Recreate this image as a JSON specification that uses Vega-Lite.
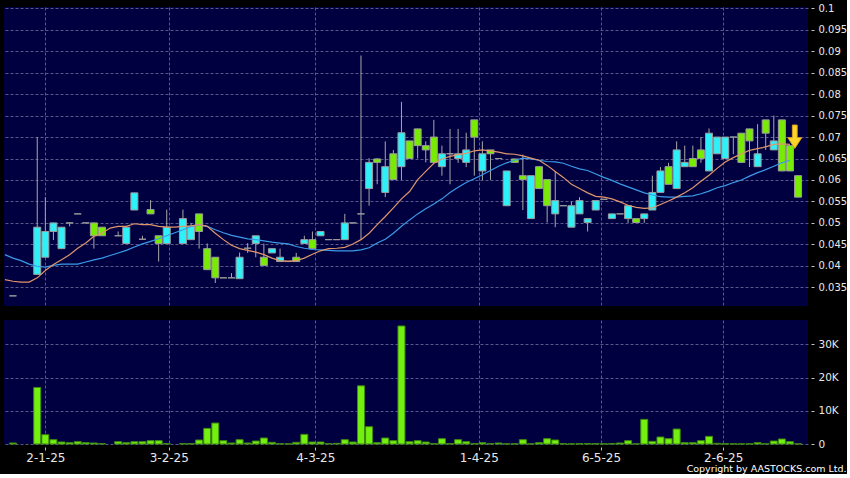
{
  "$schema": "https://vega.github.io/schema/vega-lite/v6.json",
  "background": "black",
  "padding": {"left": 4, "top": 3, "right": 0, "bottom": 0},
  "spacing": 14,
  "config": {
    "font": "DejaVu Sans",
    "view": {"fill": "#000040", "stroke": null},
    "axis": {"labelColor": "#e8e8e8", "tickColor": "#c0c0c0", "gridColor": "#58588a", "gridDash": [3, 2], "gridWidth": 1, "domain": false, "labelFont": "DejaVu Sans", "labelFlush": false}
  },
  "title": {"text": "Copyright by AASTOCKS.com Ltd.", "orient": "bottom", "anchor": "end", "color": "#ffffff", "fontSize": 9.5, "fontWeight": "normal", "font": "DejaVu Sans", "offset": 1},
  "datasets": {
    "bars": [
      {"i": 0, "o": 0.033, "c": 0.033, "h": 0.033, "l": 0.033, "v": 300},
      {"i": 3, "o": 0.038, "c": 0.049, "h": 0.070, "l": 0.038, "v": 17000},
      {"i": 4, "o": 0.042, "c": 0.048, "h": 0.056, "l": 0.042, "v": 2800},
      {"i": 5, "o": 0.048, "c": 0.050, "h": 0.050, "l": 0.046, "v": 1300},
      {"i": 6, "o": 0.044, "c": 0.049, "h": 0.049, "l": 0.044, "v": 600},
      {"i": 7, "o": 0.050, "c": 0.050, "h": 0.050, "l": 0.0492, "v": 400},
      {"i": 8, "o": 0.0521, "c": 0.0521, "h": 0.0521, "l": 0.0521, "v": 700},
      {"i": 9, "o": 0.050, "c": 0.050, "h": 0.050, "l": 0.050, "v": 400},
      {"i": 10, "o": 0.050, "c": 0.047, "h": 0.050, "l": 0.044, "v": 300},
      {"i": 11, "o": 0.049, "c": 0.047, "h": 0.049, "l": 0.047, "v": 100},
      {"i": 13, "o": 0.047, "c": 0.047, "h": 0.048, "l": 0.047, "v": 700},
      {"i": 14, "o": 0.0452, "c": 0.049, "h": 0.049, "l": 0.0452, "v": 400},
      {"i": 15, "o": 0.053, "c": 0.057, "h": 0.057, "l": 0.053, "v": 700},
      {"i": 16, "o": 0.0462, "c": 0.0462, "h": 0.047, "l": 0.0462, "v": 700},
      {"i": 17, "o": 0.0531, "c": 0.0521, "h": 0.0553, "l": 0.0521, "v": 1000},
      {"i": 18, "o": 0.047, "c": 0.0452, "h": 0.047, "l": 0.041, "v": 1000},
      {"i": 19, "o": 0.0452, "c": 0.049, "h": 0.0531, "l": 0.0452, "v": 100},
      {"i": 21, "o": 0.0452, "c": 0.051, "h": 0.0531, "l": 0.0452, "v": 100},
      {"i": 22, "o": 0.0461, "c": 0.0492, "h": 0.050, "l": 0.0461, "v": 100},
      {"i": 23, "o": 0.0521, "c": 0.048, "h": 0.0521, "l": 0.044, "v": 1200},
      {"i": 24, "o": 0.044, "c": 0.0391, "h": 0.0452, "l": 0.0391, "v": 4700},
      {"i": 25, "o": 0.042, "c": 0.0372, "h": 0.042, "l": 0.036, "v": 6300},
      {"i": 26, "o": 0.0372, "c": 0.0372, "h": 0.0372, "l": 0.0372, "v": 1000},
      {"i": 27, "o": 0.0372, "c": 0.0372, "h": 0.0383, "l": 0.0372, "v": 300},
      {"i": 28, "o": 0.037, "c": 0.042, "h": 0.0431, "l": 0.037, "v": 1300},
      {"i": 29, "o": 0.0441, "c": 0.0441, "h": 0.0453, "l": 0.043, "v": 300},
      {"i": 30, "o": 0.0452, "c": 0.047, "h": 0.047, "l": 0.042, "v": 900},
      {"i": 31, "o": 0.042, "c": 0.0401, "h": 0.0452, "l": 0.0401, "v": 1800},
      {"i": 32, "o": 0.043, "c": 0.044, "h": 0.044, "l": 0.043, "v": 500},
      {"i": 33, "o": 0.041, "c": 0.042, "h": 0.044, "l": 0.041, "v": 100},
      {"i": 34, "o": 0.041, "c": 0.041, "h": 0.041, "l": 0.041, "v": 50},
      {"i": 35, "o": 0.042, "c": 0.041, "h": 0.043, "l": 0.041, "v": 500},
      {"i": 36, "o": 0.0452, "c": 0.0461, "h": 0.047, "l": 0.0452, "v": 2900},
      {"i": 37, "o": 0.0461, "c": 0.044, "h": 0.048, "l": 0.044, "v": 600},
      {"i": 38, "o": 0.047, "c": 0.048, "h": 0.048, "l": 0.047, "v": 600},
      {"i": 39, "o": 0.0461, "c": 0.0461, "h": 0.0461, "l": 0.0461, "v": 100},
      {"i": 40, "o": 0.0461, "c": 0.0461, "h": 0.0461, "l": 0.0461, "v": 200},
      {"i": 41, "o": 0.0461, "c": 0.050, "h": 0.0521, "l": 0.0461, "v": 1300},
      {"i": 42, "o": 0.050, "c": 0.050, "h": 0.050, "l": 0.050, "v": 600},
      {"i": 43, "o": 0.0521, "c": 0.0521, "h": 0.089, "l": 0.0461, "v": 17500},
      {"i": 44, "o": 0.058, "c": 0.0641, "h": 0.0651, "l": 0.054, "v": 5200},
      {"i": 45, "o": 0.0649, "c": 0.0641, "h": 0.0651, "l": 0.059, "v": 400},
      {"i": 46, "o": 0.0571, "c": 0.0631, "h": 0.069, "l": 0.056, "v": 1800},
      {"i": 47, "o": 0.0661, "c": 0.0601, "h": 0.067, "l": 0.0601, "v": 1000},
      {"i": 48, "o": 0.0631, "c": 0.071, "h": 0.0782, "l": 0.060, "v": 35500},
      {"i": 49, "o": 0.0691, "c": 0.065, "h": 0.0691, "l": 0.065, "v": 700},
      {"i": 50, "o": 0.0719, "c": 0.068, "h": 0.0719, "l": 0.065, "v": 1000},
      {"i": 51, "o": 0.068, "c": 0.067, "h": 0.069, "l": 0.0641, "v": 600},
      {"i": 52, "o": 0.070, "c": 0.0641, "h": 0.074, "l": 0.0641, "v": 100},
      {"i": 53, "o": 0.0631, "c": 0.0661, "h": 0.068, "l": 0.061, "v": 1600},
      {"i": 54, "o": 0.0661, "c": 0.0661, "h": 0.0719, "l": 0.059, "v": 100},
      {"i": 55, "o": 0.065, "c": 0.0661, "h": 0.0719, "l": 0.064, "v": 1300},
      {"i": 56, "o": 0.0641, "c": 0.067, "h": 0.071, "l": 0.063, "v": 700},
      {"i": 57, "o": 0.074, "c": 0.070, "h": 0.074, "l": 0.061, "v": 100},
      {"i": 58, "o": 0.0621, "c": 0.0661, "h": 0.069, "l": 0.060, "v": 400},
      {"i": 59, "o": 0.067, "c": 0.0661, "h": 0.067, "l": 0.060, "v": 100},
      {"i": 60, "o": 0.065, "c": 0.065, "h": 0.065, "l": 0.065, "v": 300},
      {"i": 61, "o": 0.054, "c": 0.0621, "h": 0.0621, "l": 0.054, "v": 50},
      {"i": 62, "o": 0.0649, "c": 0.0641, "h": 0.0649, "l": 0.0641, "v": 50},
      {"i": 63, "o": 0.061, "c": 0.0601, "h": 0.0659, "l": 0.053, "v": 1300},
      {"i": 64, "o": 0.051, "c": 0.061, "h": 0.061, "l": 0.051, "v": 50},
      {"i": 65, "o": 0.0631, "c": 0.058, "h": 0.0631, "l": 0.058, "v": 400},
      {"i": 66, "o": 0.0601, "c": 0.054, "h": 0.0601, "l": 0.0501, "v": 1600},
      {"i": 67, "o": 0.0521, "c": 0.0552, "h": 0.062, "l": 0.049, "v": 1200},
      {"i": 68, "o": 0.054, "c": 0.054, "h": 0.054, "l": 0.054, "v": 100},
      {"i": 69, "o": 0.049, "c": 0.054, "h": 0.055, "l": 0.049, "v": 50},
      {"i": 70, "o": 0.0521, "c": 0.0552, "h": 0.056, "l": 0.0521, "v": 100},
      {"i": 71, "o": 0.0501, "c": 0.051, "h": 0.051, "l": 0.048, "v": 100},
      {"i": 72, "o": 0.053, "c": 0.0552, "h": 0.0552, "l": 0.053, "v": 100},
      {"i": 73, "o": 0.0555, "c": 0.0555, "h": 0.0555, "l": 0.0555, "v": 50},
      {"i": 74, "o": 0.051, "c": 0.0521, "h": 0.0521, "l": 0.051, "v": 100},
      {"i": 75, "o": 0.0521, "c": 0.0521, "h": 0.0521, "l": 0.0521, "v": 300},
      {"i": 76, "o": 0.051, "c": 0.054, "h": 0.054, "l": 0.050, "v": 1000},
      {"i": 77, "o": 0.051, "c": 0.0501, "h": 0.051, "l": 0.0501, "v": 50},
      {"i": 78, "o": 0.051, "c": 0.0521, "h": 0.0521, "l": 0.050, "v": 7400},
      {"i": 79, "o": 0.053, "c": 0.0571, "h": 0.061, "l": 0.053, "v": 800},
      {"i": 80, "o": 0.0571, "c": 0.0621, "h": 0.063, "l": 0.0571, "v": 2100},
      {"i": 81, "o": 0.0631, "c": 0.059, "h": 0.064, "l": 0.059, "v": 1600},
      {"i": 82, "o": 0.058, "c": 0.067, "h": 0.069, "l": 0.058, "v": 4500},
      {"i": 83, "o": 0.0631, "c": 0.0641, "h": 0.068, "l": 0.0631, "v": 400},
      {"i": 84, "o": 0.065, "c": 0.0631, "h": 0.068, "l": 0.0631, "v": 400},
      {"i": 85, "o": 0.067, "c": 0.065, "h": 0.070, "l": 0.064, "v": 1000},
      {"i": 86, "o": 0.0621, "c": 0.0709, "h": 0.072, "l": 0.0621, "v": 2300},
      {"i": 87, "o": 0.0661, "c": 0.070, "h": 0.070, "l": 0.0661, "v": 200},
      {"i": 88, "o": 0.065, "c": 0.070, "h": 0.070, "l": 0.065, "v": 100},
      {"i": 89, "o": 0.070, "c": 0.070, "h": 0.070, "l": 0.066, "v": 50},
      {"i": 90, "o": 0.0709, "c": 0.0641, "h": 0.0709, "l": 0.0641, "v": 50},
      {"i": 91, "o": 0.0719, "c": 0.0691, "h": 0.0719, "l": 0.063, "v": 50},
      {"i": 92, "o": 0.0631, "c": 0.0661, "h": 0.073, "l": 0.0631, "v": 400},
      {"i": 93, "o": 0.074, "c": 0.0709, "h": 0.074, "l": 0.067, "v": 50},
      {"i": 94, "o": 0.067, "c": 0.0691, "h": 0.075, "l": 0.067, "v": 900},
      {"i": 95, "o": 0.074, "c": 0.0621, "h": 0.074, "l": 0.0621, "v": 1500},
      {"i": 96, "o": 0.068, "c": 0.0621, "h": 0.068, "l": 0.0621, "v": 700},
      {"i": 97, "o": 0.061, "c": 0.056, "h": 0.061, "l": 0.056, "v": 50}
    ],
    "ma": [
      {"i": -1, "ma10": 0.0368, "ma20": 0.0426},
      {"i": 0, "ma10": 0.0364, "ma20": 0.0418},
      {"i": 1, "ma10": 0.0362, "ma20": 0.0412},
      {"i": 2, "ma10": 0.0362, "ma20": 0.0404},
      {"i": 3, "ma10": 0.0372, "ma20": 0.0399},
      {"i": 4, "ma10": 0.0389, "ma20": 0.0397},
      {"i": 5, "ma10": 0.0403, "ma20": 0.0401},
      {"i": 6, "ma10": 0.0414, "ma20": 0.0404},
      {"i": 7, "ma10": 0.0426, "ma20": 0.0404},
      {"i": 8, "ma10": 0.0441, "ma20": 0.0404},
      {"i": 9, "ma10": 0.0453, "ma20": 0.0409},
      {"i": 10, "ma10": 0.0469, "ma20": 0.0414},
      {"i": 11, "ma10": 0.0476, "ma20": 0.0418},
      {"i": 12, "ma10": 0.0488, "ma20": 0.0424},
      {"i": 13, "ma10": 0.0492, "ma20": 0.0430},
      {"i": 14, "ma10": 0.0492, "ma20": 0.0436},
      {"i": 15, "ma10": 0.0498, "ma20": 0.0444},
      {"i": 16, "ma10": 0.0496, "ma20": 0.0451},
      {"i": 17, "ma10": 0.0496, "ma20": 0.0457},
      {"i": 18, "ma10": 0.0492, "ma20": 0.0463},
      {"i": 19, "ma10": 0.0490, "ma20": 0.0470},
      {"i": 20, "ma10": 0.0490, "ma20": 0.0477},
      {"i": 21, "ma10": 0.0492, "ma20": 0.0484},
      {"i": 22, "ma10": 0.0493, "ma20": 0.0492},
      {"i": 23, "ma10": 0.0496, "ma20": 0.0496},
      {"i": 24, "ma10": 0.0492, "ma20": 0.0492},
      {"i": 25, "ma10": 0.0476, "ma20": 0.0484},
      {"i": 26, "ma10": 0.0461, "ma20": 0.0477},
      {"i": 27, "ma10": 0.0448, "ma20": 0.0471},
      {"i": 28, "ma10": 0.0440, "ma20": 0.0467},
      {"i": 29, "ma10": 0.0436, "ma20": 0.0463},
      {"i": 30, "ma10": 0.0432, "ma20": 0.0461},
      {"i": 31, "ma10": 0.0426, "ma20": 0.0458},
      {"i": 32, "ma10": 0.0418, "ma20": 0.0455},
      {"i": 33, "ma10": 0.0412, "ma20": 0.0453},
      {"i": 34, "ma10": 0.0411, "ma20": 0.0451},
      {"i": 35, "ma10": 0.0412, "ma20": 0.0445},
      {"i": 36, "ma10": 0.0418, "ma20": 0.0441},
      {"i": 37, "ma10": 0.0427, "ma20": 0.0438},
      {"i": 38, "ma10": 0.0435, "ma20": 0.0437},
      {"i": 39, "ma10": 0.0440, "ma20": 0.0436},
      {"i": 40, "ma10": 0.0441, "ma20": 0.0435},
      {"i": 41, "ma10": 0.0443, "ma20": 0.0435},
      {"i": 42, "ma10": 0.0451, "ma20": 0.0435},
      {"i": 43, "ma10": 0.0461, "ma20": 0.0437},
      {"i": 44, "ma10": 0.0476, "ma20": 0.0442},
      {"i": 45, "ma10": 0.0496, "ma20": 0.0453},
      {"i": 46, "ma10": 0.0515, "ma20": 0.0462},
      {"i": 47, "ma10": 0.0535, "ma20": 0.0476},
      {"i": 48, "ma10": 0.0556, "ma20": 0.0492},
      {"i": 49, "ma10": 0.0573, "ma20": 0.0507},
      {"i": 50, "ma10": 0.0601, "ma20": 0.0521},
      {"i": 51, "ma10": 0.0620, "ma20": 0.0533},
      {"i": 52, "ma10": 0.0639, "ma20": 0.0544},
      {"i": 53, "ma10": 0.0649, "ma20": 0.0556},
      {"i": 54, "ma10": 0.0655, "ma20": 0.0571},
      {"i": 55, "ma10": 0.0659, "ma20": 0.0583},
      {"i": 56, "ma10": 0.0662, "ma20": 0.0594},
      {"i": 57, "ma10": 0.0668, "ma20": 0.0603},
      {"i": 58, "ma10": 0.0670, "ma20": 0.0612},
      {"i": 59, "ma10": 0.0668, "ma20": 0.0622},
      {"i": 60, "ma10": 0.0665, "ma20": 0.0632},
      {"i": 61, "ma10": 0.0661, "ma20": 0.0640},
      {"i": 62, "ma10": 0.0660, "ma20": 0.0646},
      {"i": 63, "ma10": 0.0656, "ma20": 0.0651},
      {"i": 64, "ma10": 0.0651, "ma20": 0.0649},
      {"i": 65, "ma10": 0.0646, "ma20": 0.0646},
      {"i": 66, "ma10": 0.0634, "ma20": 0.0643},
      {"i": 67, "ma10": 0.0620, "ma20": 0.0642},
      {"i": 68, "ma10": 0.0606, "ma20": 0.0639},
      {"i": 69, "ma10": 0.0590, "ma20": 0.0632},
      {"i": 70, "ma10": 0.0580, "ma20": 0.0626},
      {"i": 71, "ma10": 0.0570, "ma20": 0.0622},
      {"i": 72, "ma10": 0.0562, "ma20": 0.0614},
      {"i": 73, "ma10": 0.0560, "ma20": 0.0606},
      {"i": 74, "ma10": 0.0556, "ma20": 0.0599},
      {"i": 75, "ma10": 0.0549, "ma20": 0.0591},
      {"i": 76, "ma10": 0.0541, "ma20": 0.0584},
      {"i": 77, "ma10": 0.0536, "ma20": 0.0577},
      {"i": 78, "ma10": 0.0534, "ma20": 0.0570},
      {"i": 79, "ma10": 0.0535, "ma20": 0.0565},
      {"i": 80, "ma10": 0.0543, "ma20": 0.0561},
      {"i": 81, "ma10": 0.0551, "ma20": 0.0560},
      {"i": 82, "ma10": 0.0560, "ma20": 0.0560},
      {"i": 83, "ma10": 0.0570, "ma20": 0.0562},
      {"i": 84, "ma10": 0.0582, "ma20": 0.0563},
      {"i": 85, "ma10": 0.0597, "ma20": 0.0568},
      {"i": 86, "ma10": 0.0611, "ma20": 0.0574},
      {"i": 87, "ma10": 0.0627, "ma20": 0.0582},
      {"i": 88, "ma10": 0.0642, "ma20": 0.0587},
      {"i": 89, "ma10": 0.0652, "ma20": 0.0594},
      {"i": 90, "ma10": 0.0661, "ma20": 0.0600},
      {"i": 91, "ma10": 0.0669, "ma20": 0.0609},
      {"i": 92, "ma10": 0.0673, "ma20": 0.0617},
      {"i": 93, "ma10": 0.0677, "ma20": 0.0624},
      {"i": 94, "ma10": 0.0683, "ma20": 0.0632},
      {"i": 95, "ma10": 0.0684, "ma20": 0.0640},
      {"i": 96, "ma10": 0.0683, "ma20": 0.0646}
    ],
    "signal": [{"i": 96, "v": 0.0700}]
  },
  "vconcat": [
    {
      "width": 804,
      "height": 299,
      "encoding": {
        "x": {"field": "i", "type": "quantitative",
          "scale": {"domain": [-0.49, 97.61], "nice": false, "zero": false},
          "axis": {"values": [4.0, 19.25, 37.35, 57.55, 72.65, 87.75], "labels": false, "ticks": false, "grid": true, "title": null}}
      },
      "layer": [
        {
          "data": {"name": "bars"},
          "mark": {"type": "rule", "color": "#a8a8a8", "strokeWidth": 1},
          "encoding": {
            "y": {"field": "l", "type": "quantitative",
              "scale": {"domain": [0.03064, 0.1003], "nice": false, "zero": false},
              "axis": {"orient": "right", "tickCount": 14, "format": ".3~f", "title": null, "offset": 3, "tickSize": 3, "labelPadding": 4, "labelFontSize": 10, "labelOverlap": false, "labelSeparation": 0, "grid": true}},
            "y2": {"field": "h"}
          }
        },
        {
          "data": {"name": "bars"},
          "mark": {"type": "bar", "size": 7, "stroke": "#9c9c9c", "strokeWidth": 1},
          "encoding": {
            "y": {"field": "o", "type": "quantitative"},
            "y2": {"field": "c"},
            "fill": {"condition": {"test": "datum.c > datum.o", "value": "#2ef0f8"}, "value": "#78ec00"}
          }
        },
        {
          "data": {"name": "ma"},
          "mark": {"type": "line", "color": "#3a9ae6", "strokeWidth": 1.2, "clip": true},
          "encoding": {"y": {"field": "ma20", "type": "quantitative"}}
        },
        {
          "data": {"name": "ma"},
          "mark": {"type": "line", "color": "#e0956a", "strokeWidth": 1.2, "clip": true},
          "encoding": {"y": {"field": "ma10", "type": "quantitative"}}
        },
        {
          "data": {"name": "signal"},
          "mark": {"type": "point", "filled": true, "opacity": 1, "size": 576, "fill": "#ffd42a", "stroke": "#d9a21c", "strokeWidth": 1,
            "shape": "M 0.2 -1 L 0.6 -1 L 0.6 0.05 L 0.98 0.05 L 0.4 0.95 L -0.18 0.05 L 0.2 0.05 Z"},
          "encoding": {"y": {"field": "v", "type": "quantitative"}}
        }
      ]
    },
    {
      "width": 804,
      "height": 124,
      "data": {"name": "bars"},
      "mark": {"type": "bar", "size": 7, "fill": "#74f010", "stroke": "#3f8a10", "strokeWidth": 1},
      "encoding": {
        "x": {"field": "i", "type": "quantitative",
          "scale": {"domain": [-0.49, 97.61], "nice": false, "zero": false},
          "axis": {"values": [4.0, 19.25, 37.35, 57.55, 72.65, 87.75], "grid": true, "title": null, "offset": 3, "tickSize": 3, "labelPadding": 2, "labelFontSize": 12,
            "labelExpr": "datum.value < 10 ? '2-1-25' : datum.value < 30 ? '3-2-25' : datum.value < 45 ? '4-3-25' : datum.value < 65 ? '1-4-25' : datum.value < 80 ? '6-5-25' : '2-6-25'"}},
        "y": {"field": "v", "type": "quantitative",
          "scale": {"domain": [0, 37300], "nice": false, "zero": true},
          "axis": {"orient": "right", "values": [0, 10000, 20000, 30000], "title": null, "offset": 3, "tickSize": 3, "labelPadding": 4, "labelFontSize": 10.5, "grid": true,
            "labelExpr": "datum.value == 0 ? '0' : (datum.value / 1000) + 'K'"}}
      }
    }
  ]
}
